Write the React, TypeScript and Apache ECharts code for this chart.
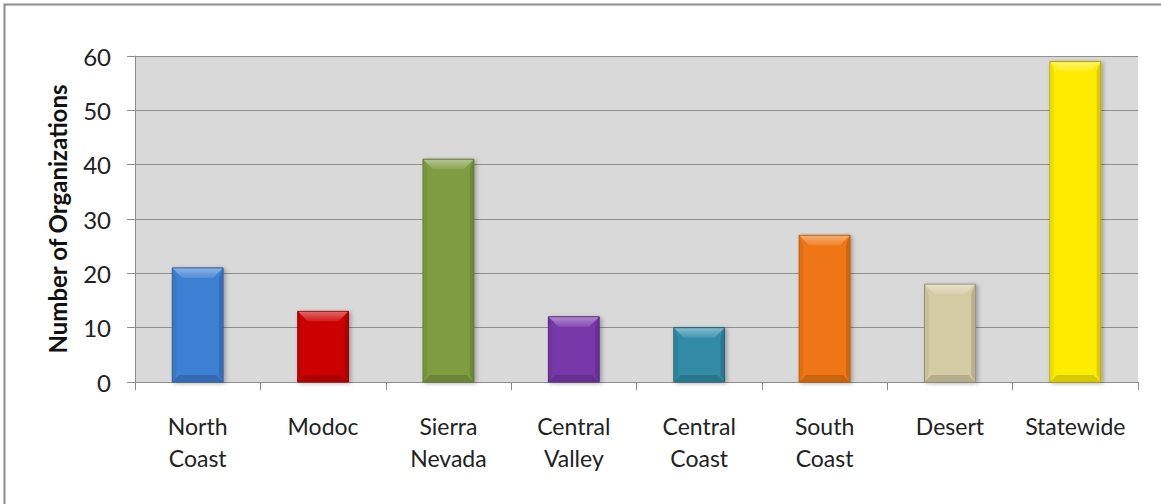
import React, { useEffect, useRef } from "react";
import * as echarts from "echarts";

// Regions and the number of organizations in each
const regions = [
  "North Coast",
  "Modoc",
  "Sierra Nevada",
  "Central Valley",
  "Central Coast",
  "South Coast",
  "Desert",
  "Statewide",
];
const organizationCounts = [21, 13, 41, 12, 10, 27, 18, 59];
const barColors = [
  "#3d7fd2",
  "#cc0000",
  "#7f9c41",
  "#7838aa",
  "#318ca6",
  "#ef7612",
  "#d2cba4",
  "#fcec00",
];
const yTicks = { min: 0, max: 60, step: 10 };

const FONT = "Lato, 'Open Sans', sans-serif";

function mix(hex: string, target: number, amount: number): string {
  const n = parseInt(hex.slice(1), 16);
  const ch = [(n >> 16) & 255, (n >> 8) & 255, n & 255].map((c) =>
    Math.round(c + (target - c) * amount)
  );
  return "rgb(" + ch.join(",") + ")";
}

export default function App() {
  const ref = useRef<HTMLDivElement>(null);

  useEffect(() => {
    if (!ref.current) return;
    const chart = echarts.init(ref.current, null, { renderer: "svg" });

    chart.setOption({
      animation: false,
      backgroundColor: "#ffffff",
      graphic: [
        {
          type: "rect",
          shape: { x: 4.5, y: 4.5, width: 1300, height: 700 },
          style: { fill: "none", stroke: "#8c8c8c", lineWidth: 2 },
          silent: true,
          z: 100,
        },
      ],
      grid: {
        left: 135,
        right: 23,
        top: 56,
        bottom: 122,
        show: true,
        backgroundColor: "#d9d9d9",
        borderWidth: 0,
      },
      xAxis: {
        type: "category",
        data: regions,
        boundaryGap: true,
        axisLine: { show: true, lineStyle: { color: "#8c8c8c", width: 1 } },
        axisTick: {
          show: true,
          length: 8,
          alignWithLabel: false,
          lineStyle: { color: "#8c8c8c" },
        },
        axisLabel: {
          interval: 0,
          margin: 28,
          fontFamily: FONT,
          fontSize: 23,
          lineHeight: 32,
          color: "#222",
          formatter: (v: string) => v.replace(" ", "\n"),
        },
        splitLine: { show: false },
      },
      yAxis: {
        type: "value",
        min: yTicks.min,
        max: yTicks.max,
        interval: yTicks.step,
        name: "Number of Organizations",
        nameLocation: "middle",
        nameGap: 66,
        nameTextStyle: {
          fontFamily: FONT,
          fontSize: 24,
          fontWeight: "bold",
          color: "#111",
        },
        axisLine: { show: true, lineStyle: { color: "#8c8c8c", width: 1 } },
        axisTick: { show: true, length: 8, lineStyle: { color: "#8c8c8c" } },
        axisLabel: {
          margin: 24,
          fontFamily: FONT,
          fontSize: 24,
          color: "#222",
        },
        splitLine: { show: true, lineStyle: { color: "#8f8f8f", width: 1 } },
      },
      series: [
        {
          type: "custom",
          data: organizationCounts.map((v, i) => [i, v]),
          encode: { x: 0, y: 1 },
          renderItem: (params: any, api: any) => {
            const idx = api.value(0);
            const val = api.value(1);
            const top = api.coord([idx, val]);
            const base = api.coord([idx, 0]);
            const w = api.size([1, 0])[0] * 0.405;
            const x0 = top[0] - w / 2;
            const x1 = top[0] + w / 2;
            const y0 = top[1];
            const y1 = base[1];
            const b = Math.min(10, (y1 - y0) / 3, w / 4);
            const bb = Math.min(7, b);
            const s = 4;
            const c = barColors[params.dataIndex];
            return {
              type: "group",
              children: [
                {
                  type: "rect",
                  shape: { x: x0, y: y0, width: w, height: y1 - y0 },
                  style: {
                    fill: c,
                    stroke: mix(c, 0, 0.3),
                    lineWidth: 1,
                    shadowBlur: 4,
                    shadowOffsetX: 2,
                    shadowOffsetY: 1,
                    shadowColor: "rgba(0,0,0,0.3)",
                  },
                },
                {
                  type: "polygon",
                  shape: {
                    points: [
                      [x0 + 0.5, y0 + 0.5],
                      [x0 + s, y0 + b],
                      [x0 + s, y1 - bb],
                      [x0 + 0.5, y1 - 0.5],
                    ],
                  },
                  style: { fill: mix(c, 0, 0.06) },
                },
                {
                  type: "polygon",
                  shape: {
                    points: [
                      [x1 - 0.5, y0 + 0.5],
                      [x1 - s, y0 + b],
                      [x1 - s, y1 - bb],
                      [x1 - 0.5, y1 - 0.5],
                    ],
                  },
                  style: { fill: mix(c, 0, 0.14) },
                },
                {
                  type: "polygon",
                  shape: {
                    points: [
                      [x0 + 0.5, y0 + 0.5],
                      [x1 - 0.5, y0 + 0.5],
                      [x1 - b, y0 + b],
                      [x0 + b, y0 + b],
                    ],
                  },
                  style: {
                    fill: new echarts.graphic.LinearGradient(0, 0, 0, 1, [
                      { offset: 0, color: mix(c, 255, 0.4) },
                      { offset: 1, color: mix(c, 255, 0.1) },
                    ]),
                  },
                },
                {
                  type: "polygon",
                  shape: {
                    points: [
                      [x0 + 0.5, y1 - 0.5],
                      [x1 - 0.5, y1 - 0.5],
                      [x1 - bb, y1 - bb],
                      [x0 + bb, y1 - bb],
                    ],
                  },
                  style: { fill: mix(c, 0, 0.15) },
                },
              ],
            };
          },
        },
      ],
    });

    return () => chart.dispose();
  }, []);

  return (
    <div
      ref={ref}
      style={{ position: "fixed", left: 0, top: 0, width: 1161, height: 504 }}
    />
  );
}
